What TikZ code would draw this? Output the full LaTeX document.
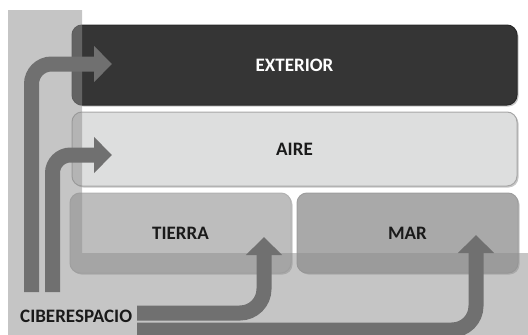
\documentclass[tikz,border=0pt]{standalone}
\usepackage{fontspec}
\setmainfont{Carlito}
\usetikzlibrary{arrows.meta}
\definecolor{extfill}{HTML}{353535}
\definecolor{airefill}{HTML}{DDDEDE}
\definecolor{tierrafill}{HTML}{BDBDBD}
\definecolor{marfill}{HTML}{A9A9A9}
\definecolor{ovgray}{HTML}{8F8F8F}
\definecolor{arrowgray}{HTML}{707070}
\definecolor{txt}{HTML}{1A1A1A}
\tikzset{
  layer/.style={rounded corners=10pt, inner sep=0pt, font=\fontsize{19}{21}\selectfont\bfseries,
    text=txt, draw=#1!80!black, line width=1pt, fill=#1},
  shadowed/.style={preaction={fill=black, opacity=0.22, transform canvas={shift={(1.5pt,-1.5pt)}}}},
  bigarrow/.style={draw=arrowgray, line width=15pt, rounded corners=#1,
    -{Triangle[width=35pt,length=18pt]}},
  lbl/.style={font=\fontsize{19}{21}\selectfont\bfseries, text=txt, inner sep=0pt}
}
\begin{document}
\begin{tikzpicture}[x=1pt,y=-1pt]
\useasboundingbox (0,0) rectangle (528,335);
% layers
\node[layer=extfill, shadowed, text=white, minimum width=445pt, minimum height=80pt] (ext) at (294.5,65) {EXTERIOR};
\node[layer=airefill, shadowed, draw=black!35, minimum width=445pt, minimum height=74pt] (aire) at (294.5,149) {AIRE};
\node[layer=tierrafill, shadowed, draw=black!30, minimum width=221pt, minimum height=80pt] (tierra) at (180.5,233) {TIERRA};
\node[layer=marfill, shadowed, draw=black!38, minimum width=221pt, minimum height=80pt] (mar) at (407.5,233) {MAR};
% translucent L-shaped band
\fill[ovgray, opacity=0.52] (8,10) -- (82,10) -- (82,253) -- (528,253) -- (528,335) -- (8,335) -- cycle;
% source label
\node[lbl, anchor=west] (cib) at (20,316) {CIBERESPACIO};
% start and end points of arrows
\coordinate (s1) at (31.5,292);
\coordinate (s2) at (52.5,292);
\coordinate (s3) at (137,313);
\coordinate (s4) at (137,330);
\coordinate (e1) at (112,64);
\coordinate (e2) at (112,155);
\coordinate (e3) at (264,237);
\coordinate (e4) at (476,235);
\draw[bigarrow=20pt] (s1) |- (e1);
\draw[bigarrow=18pt] (s2) |- (e2);
\draw[bigarrow=24pt] (s3) -| (e3);
\draw[bigarrow=24pt] (s4) -| (e4);
\end{tikzpicture}
\end{document}
